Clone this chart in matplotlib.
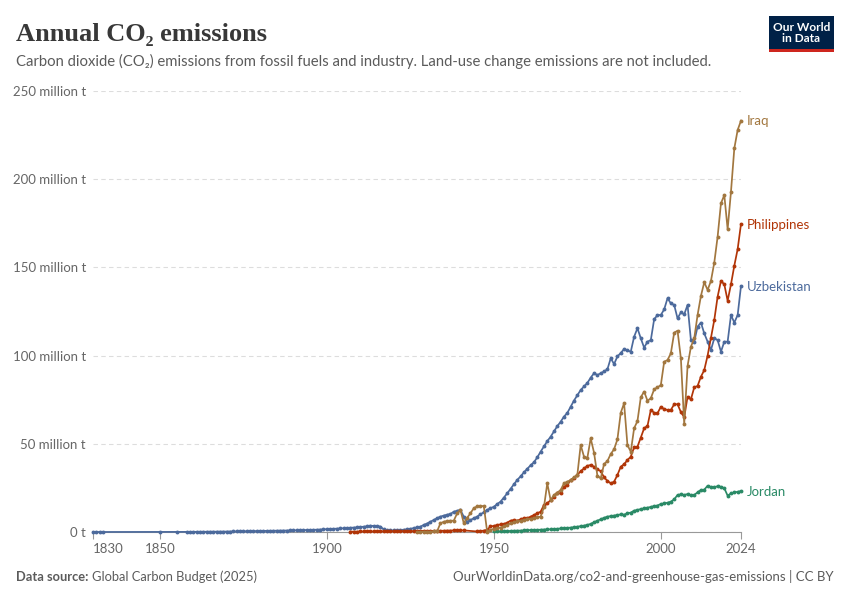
#annual CO2 emissions - four countries, OWID style
import numpy as np
import matplotlib.pyplot as plt
from matplotlib.patches import Rectangle

#years for each country (gaps where there is no data)
uzb_years = [1830, 1831, 1832, 1833, 1850, 1855] + list(range(1858, 2025))
phl_years = list(range(1907, 1942)) + list(range(1945, 2025))
irq_years = list(range(1927, 2025))
jor_years = list(range(1950, 2025))

#million tonnes
uzb_values = [0.01, 0.01, 0.01, 0.01, 0.02, 0.03,
              0.05, 0.07, 0.08, 0.1, 0.1, 0.12, 0.13, 0.15, 0.17, 0.19, 0.2, 0.22, 0.25,
              0.27, 0.3, 0.32, 0.35, 0.38, 0.4, 0.43, 0.46, 0.5, 0.53, 0.56, 0.6, 0.63, 0.66, 0.7,
              0.74, 0.78, 0.82, 0.86, 0.9, 0.95, 1.0, 1.05, 1.1, 1.15, 1.2, 1.3, 1.4, 1.5,
              1.6, 1.7, 1.8, 1.9, 2.0, 2.1, 2.2, 2.4, 2.5, 2.6, 2.8, 3.0, 3.2, 3.6,
              3.4, 3.3, 3.1, 1.5, 1.0, 0.9, 0.9, 1.0, 1.1, 1.3, 1.5, 1.8, 2.2, 2.6, 3.0,
              4.0, 4.8, 5.8, 6.8, 7.8, 8.7, 9.3, 9.8, 10.2, 11.5, 12.0, 12.5,
              8.7, 5.8, 6.8, 7.8, 8.7, 10.0, 11.2, 12.5, 13.5,
              14.3, 15.8, 17.2, 19.5, 21.9, 24.5, 27.0, 29.5, 31.5, 33.8,
              35.8, 37.8, 39.5, 42.3, 45.5, 48.5, 51.5, 54.0, 57.0, 60.0,
              62.5, 65.4, 67.5, 71.0, 74.5, 77.5, 80.5, 82.5, 84.5, 87.5, 90.0, 89.0,
              90.0, 91.0, 92.2, 98.5, 95.2, 99.5, 101.5, 103.7, 103.0, 102.2, 110.7, 115.5,
              109.8, 104.5, 107.9, 108.8, 120.6, 123.0, 123.0, 126.2, 132.5, 129.6, 128.7,
              121.1, 124.5, 123.4, 128.7, 108.8, 107.9, 116.4, 118.7, 112.6, 107.9, 103.2, 109.8,
              108.8, 102.2, 107.9, 107.9, 123.0, 118.7, 123.0, 139.5]
phl_values = [0.2, 0.2, 0.2, 0.3, 0.3, 0.3, 0.3, 0.3, 0.3, 0.3, 0.4, 0.4, 0.4,
              0.4, 0.4, 0.4, 0.5, 0.5, 0.5, 0.5, 0.6, 0.6, 0.6, 0.6, 0.6, 0.6, 0.7, 0.7,
              0.7, 0.8, 0.8, 0.9, 0.9, 0.9, 0.9,
              0.3, 0.5, 0.8, 1.2, 3.2,
              3.4, 4.0, 4.3, 4.5, 5.3, 6.4, 6.8, 6.4, 7.2, 7.8,
              7.8, 8.7, 9.6, 10.6, 11.5, 15.3, 16.3, 18.0, 20.0, 21.9,
              22.0, 25.7, 26.6, 29.5, 30.4, 32.3,
              34.5, 36.0, 37.5, 38.0, 37.0, 35.5, 34.5, 31.0, 29.0, 27.6,
              28.5, 32.3, 37.0, 38.4, 40.8, 42.7, 48.0, 48.4, 53.5, 58.8,
              60.1, 69.2, 67.6, 67.3, 71.0, 69.6, 69.2, 69.2, 72.4, 72.4,
              68.0, 65.0, 76.7, 75.2, 82.0, 82.8, 88.0, 91.8, 100.0, 110.0,
              120.2, 133.4, 142.3, 140.4, 131.1, 140.4, 151.0, 160.4, 174.6]
irq_values = [0.1, 0.1, 0.2, 0.2, 0.2, 0.3, 0.3,
              4.9, 5.8, 6.2, 6.4, 6.4, 10.5, 12.5, 5.0, 8.0, 10.6, 13.5, 14.5, 14.7, 14.7, 0.2, 1.2,
              1.8, 2.1, 2.5, 3.2, 4.0, 4.9, 5.4, 6.0, 6.4, 6.8,
              7.2, 7.5, 7.9, 8.3, 8.7, 14.0, 27.6, 18.1, 21.0, 22.3,
              23.8, 27.6, 28.5, 29.5, 31.0, 32.3,
              49.3, 42.7, 42.0, 53.1, 45.0, 32.0, 30.4, 38.5, 40.2, 44.2,
              46.9, 52.5, 67.6, 73.0, 49.3, 45.5, 58.8, 62.9, 76.4, 79.6,
              74.4, 75.8, 80.9, 82.0, 83.3, 96.5, 97.5, 101.3, 113.0, 114.1,
              98.5, 61.2, 94.1, 105.0, 109.8, 123.0, 133.8, 141.6, 137.2, 142.3,
              152.7, 167.4, 186.3, 191.0, 171.6, 192.9, 217.5, 227.9, 233.2]
jor_values = [0.3, 0.35, 0.4, 0.45, 0.5, 0.6, 0.7, 0.75, 0.8, 0.9,
              1.0, 1.1, 1.1, 1.2, 1.3, 1.4, 1.5, 1.5, 1.6, 1.8,
              2.0, 2.1, 2.3, 2.5, 2.7,
              3.0, 3.3, 3.6, 4.0, 4.6, 5.5, 6.4, 7.2, 8.0, 8.7,
              9.0, 9.3, 9.6, 10.0, 9.8, 10.6, 11.0, 12.1, 12.5, 13.0,
              13.4, 13.8, 14.2, 14.7, 15.0, 15.9, 16.2, 16.6, 17.2, 18.5,
              21.0, 21.3, 21.0, 21.5, 20.8, 21.0, 22.5, 23.8, 24.0, 26.2,
              25.5, 25.3, 26.0, 25.6, 24.8, 20.6, 21.9, 22.4, 22.8, 23.2]

names = ['Uzbekistan', 'Jordan', 'Philippines', 'Iraq']
colors = ['#4c6a9c', '#2a8a66', '#b13507', '#a2773f']
y_ticks = [0, 50, 100, 150, 200, 250]
y_labels = ['0 t', '50 million t', '100 million t', '150 million t', '200 million t', '250 million t']
x_ticks = [1830, 1850, 1900, 1950, 2000, 2024]

plt.rcParams['font.family'] = ['Lato', 'DejaVu Sans']
W, H = 850, 600
fig = plt.figure(figsize=(8.5, 6), dpi=100)
ax = fig.add_axes([93/W, 1-532/H, (741-93)/W, (532-91)/H])

series = [(uzb_years, uzb_values), (jor_years, jor_values),
          (phl_years, phl_values), (irq_years, irq_values)]
for (yrs, vals), name, col in zip(series, names, colors):
    ax.plot(yrs, vals, color=col, lw=1.25, marker='o', ms=2.8, mew=0, clip_on=False, zorder=3)
    ax.annotate(name, (yrs[-1], vals[-1]), xytext=(4, -0.5), textcoords='offset points',
                color=col, fontsize=9.5, va='center', ha='left', annotation_clip=False)

ax.set_xlim(1830, 2024)
ax.set_ylim(0, 250)
ax.set_yticks(y_ticks)
ax.set_yticklabels(y_labels)
ax.set_xticks(x_ticks)
ax.set_xticklabels([str(t) for t in x_ticks])
ax.get_xticklabels()[0].set_horizontalalignment('left')
ax.tick_params(axis='y', length=0, pad=5, labelsize=9.5, labelcolor='#666666')
ax.tick_params(axis='x', length=5, color='#999999', pad=3, labelsize=9.5, labelcolor='#666666')
for s in ['top', 'right', 'left']:
    ax.spines[s].set_visible(False)
ax.spines['bottom'].set_color('#999999')
ax.grid(axis='y', color='#dddddd', ls=(0, (4, 3)), lw=0.8)
ax.set_axisbelow(True)

#header
fig.text(16/W, 1-41/H, 'Annual CO\u2082 emissions', family=['Liberation Serif', 'DejaVu Serif'],
         fontsize=19, fontweight='bold', color='#383838', va='baseline')
fig.text(16/W, 1-66/H, 'Carbon dioxide (CO\u2082) emissions from fossil fuels and industry. '
         'Land-use change emissions are not included.', fontsize=10.7, color='#5b5b5b', va='baseline')

#logo
fig.patches.append(Rectangle((769/W, 1-52/H), 65/W, 36/H, transform=fig.transFigure,
                             facecolor='#002147', edgecolor='none'))
fig.patches.append(Rectangle((769/W, 1-52/H), 65/W, 3/H, transform=fig.transFigure,
                             facecolor='#ce261e', edgecolor='none'))
fig.text(801.5/W, 1-33/H, 'Our World\nin Data', color='white', fontsize=8.6, fontweight='bold',
         ha='center', va='center', linespacing=1.0)

#footer
fig.text(16/W, 1-581/H, 'Data source:', fontsize=9.3, fontweight='bold', color='#5b5b5b', va='baseline')
fig.text(92/W, 1-581/H, 'Global Carbon Budget (2025)', fontsize=9.3, color='#5b5b5b', va='baseline')
fig.text(834/W, 1-581/H, 'OurWorldinData.org/co2-and-greenhouse-gas-emissions | CC BY',
         fontsize=9.55, color='#5b5b5b', ha='right', va='baseline')

fig.savefig('out.png', dpi=100)
